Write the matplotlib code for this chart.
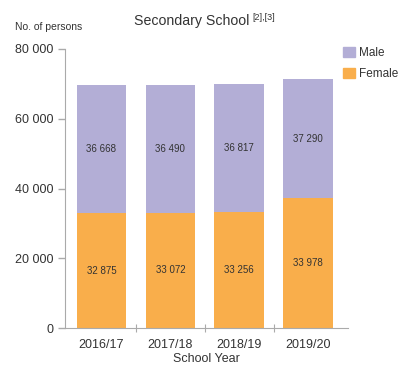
import matplotlib
matplotlib.use("Agg")
import matplotlib.pyplot as plt
from matplotlib.patches import Patch
from matplotlib.ticker import FuncFormatter, FixedLocator

years = ["2016/17", "2017/18", "2018/19", "2019/20"]
# segment heights as drawn in the reference picture
female = [32875, 33072, 33256, 37290]
male = [36668, 36490, 36817, 33978]
# labels as printed in the reference picture
female_labels = ["32 875", "33 072", "33 256", "33 978"]
male_labels = ["36 668", "36 490", "36 817", "37 290"]

c_male = "#b3aed6"
c_female = "#f9ae4b"
txt = "#333333"
axc = "#aaaaaa"

plt.rcParams['font.family'] = ['Liberation Sans', 'DejaVu Sans']

fig = plt.figure(figsize=(4.0, 3.65), dpi=100)
ax = fig.add_axes([0.1625, 0.101, 0.7075, 0.765])

x = list(range(len(years)))
w = 0.72
ax.bar(x, female, width=w, color=c_female, label="Female")
ax.bar(x, male, width=w, bottom=female, color=c_male, label="Male")

def fmt(v):
    return f"{int(v):,}".replace(",", " ")

for i in x:
    ax.text(i, female[i] / 2, female_labels[i], ha="center", va="center", fontsize=7, color=txt)
    ax.text(i, female[i] + male[i] / 2, male_labels[i], ha="center", va="center", fontsize=7, color=txt)

ax.set_xlim(-0.53, 3.58)
ax.set_ylim(0, 80000)
ax.set_yticks([0, 20000, 40000, 60000, 80000])
ax.yaxis.set_major_formatter(FuncFormatter(lambda v, p: fmt(v)))
ax.tick_params(axis="y", length=5, color=axc, labelsize=9, labelcolor=txt, width=1)

ax.xaxis.set_major_locator(FixedLocator([0.5, 1.5, 2.5]))
ax.xaxis.set_major_formatter(FuncFormatter(lambda v, p: ""))
ax.xaxis.set_minor_locator(FixedLocator(x))
ax.set_xticklabels(years, minor=True)
ax.tick_params(axis="x", which="major", length=6, color=axc, direction="inout")
ax.tick_params(axis="x", which="minor", length=0, labelsize=9, labelcolor=txt, pad=8)
ax.set_xlabel("School Year", fontsize=9, color=txt, labelpad=1)

for s in ["top", "right"]:
    ax.spines[s].set_visible(False)
for s in ["left", "bottom"]:
    ax.spines[s].set_color(axc)

fig.text(0.48, 0.942, "Secondary School", ha="center", va="center", fontsize=10.2, color=txt)
fig.text(0.63, 0.952, "[2],[3]", ha="left", va="center", fontsize=6.5, color=txt)
fig.text(0.038, 0.926, "No. of persons", ha="left", va="center", fontsize=7.5, color=txt)

handles = [Patch(color=c_male, label="Male"), Patch(color=c_female, label="Female")]
fig.legend(handles=handles, loc="upper left", bbox_to_anchor=(0.845, 0.885), frameon=False,
           fontsize=8.5, handlelength=1.0, handleheight=1.0, handletextpad=0.4,
           labelspacing=0.75, labelcolor=txt, borderaxespad=0)

fig.savefig("out.png", dpi=100)
